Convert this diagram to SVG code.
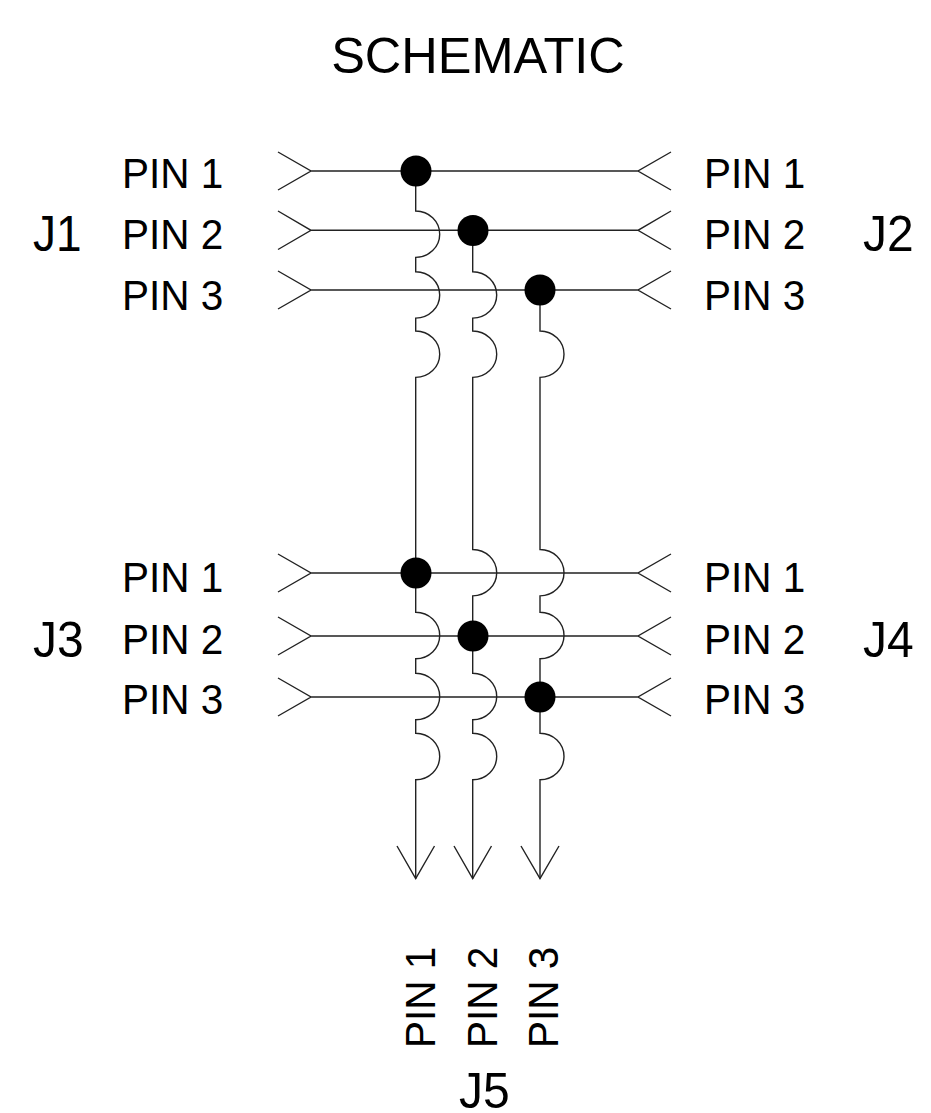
<svg xmlns="http://www.w3.org/2000/svg" width="931" height="1113" viewBox="0 0 931 1113">
<style>
text{font-family:"Liberation Sans",Arial,sans-serif;fill:#000}
.t{font-size:50.500px}
.p{font-size:40.500px}
.j{font-size:48px}
.w{fill:none;stroke:#222;stroke-width:1.400}
.d{fill:#000}
</style>
<rect width="931" height="1113" fill="#fff"/>
<text id="title" class="t" x="478" y="73" text-anchor="middle">SCHEMATIC</text>
<g id="connectors" class="w">
<path d="M278 152L311 171L278 190M311 171H638M671 152L638 171L671 190"/>
<path d="M278 211L311 230.300L278 249.500M311 230.300H638M671 211L638 230.300L671 249.500"/>
<path d="M278 271L311 290L278 309M311 290H638M671 271L638 290L671 309"/>
<path d="M278 554L311 573L278 592M311 573H638M671 554L638 573L671 592"/>
<path d="M278 617L311 636L278 655M311 636H638M671 617L638 636L671 655"/>
<path d="M278 678L311 697L278 716M311 697H638M671 678L638 697L671 716"/>
<path d="M415.700 171V211a24 23.200 0 0 1 0 46.400V271.700a24 23.200 0 0 1 0 46.400V331a24 23.200 0 0 1 0 46.400V612.300a24 23.200 0 0 1 0 46.400V673.300a24 23.200 0 0 1 0 46.400V733.300a24 23.200 0 0 1 0 46.400V878.700"/>
<path d="M472.700 230.300V271.700a24 23.200 0 0 1 0 46.400V331a24 23.200 0 0 1 0 46.400V549.500a24 23.200 0 0 1 0 46.400V673.300a24 23.200 0 0 1 0 46.400V733.300a24 23.200 0 0 1 0 46.400V878.700"/>
<path d="M540 290V331a24 23.200 0 0 1 0 46.400V549.500a24 23.200 0 0 1 0 46.400V612.300a24 23.200 0 0 1 0 46.400V733.300a24 23.200 0 0 1 0 46.400V878.700"/>
<path d="M397 846L415.700 878.700L434.500 846M454 846L472.700 878.700L491.500 846M521 846L540 878.700L559 846"/>
</g>
<g id="junctions" class="d">
<circle cx="416" cy="171" r="15.500"/>
<circle cx="473" cy="230.500" r="15.500"/>
<circle cx="540" cy="290" r="15.500"/>
<circle cx="416" cy="573" r="15.500"/>
<circle cx="473" cy="636" r="15.500"/>
<circle cx="540" cy="697" r="15.500"/>
</g>
<g id="J1"><text class="j" style="font-size:46px" transform="translate(33 251) scale(1 1.080)">J1</text><text class="p" transform="translate(122 188) scale(1 1.050)">PIN 1</text><text class="p" transform="translate(122 248.500) scale(1 1.050)">PIN 2</text><text class="p" transform="translate(122 309.500) scale(1 1.050)">PIN 3</text></g>
<g id="J2"><text class="j" transform="translate(863 251) scale(1 1.040)">J2</text><text class="p" transform="translate(704 188) scale(1 1.050)">PIN 1</text><text class="p" transform="translate(704 248.500) scale(1 1.050)">PIN 2</text><text class="p" transform="translate(704 309.500) scale(1 1.050)">PIN 3</text></g>
<g id="J3"><text class="j" transform="translate(33 656.500) scale(1 1.040)">J3</text><text class="p" transform="translate(122 592) scale(1 1.050)">PIN 1</text><text class="p" transform="translate(122 653.500) scale(1 1.050)">PIN 2</text><text class="p" transform="translate(122 713.500) scale(1 1.050)">PIN 3</text></g>
<g id="J4"><text class="j" transform="translate(863 656.500) scale(1 1.040)">J4</text><text class="p" transform="translate(704 592) scale(1 1.050)">PIN 1</text><text class="p" transform="translate(704 653.500) scale(1 1.050)">PIN 2</text><text class="p" transform="translate(704 713.500) scale(1 1.050)">PIN 3</text></g>
<g id="J5"><text class="j" transform="translate(459 1107.500) scale(1 1.040)">J5</text>
<text class="p" transform="translate(435 1048) rotate(-90) scale(1 1.050)">PIN 1</text>
<text class="p" transform="translate(496.500 1048) rotate(-90) scale(1 1.050)">PIN 2</text>
<text class="p" transform="translate(557.500 1048) rotate(-90) scale(1 1.050)">PIN 3</text></g>
</svg>
